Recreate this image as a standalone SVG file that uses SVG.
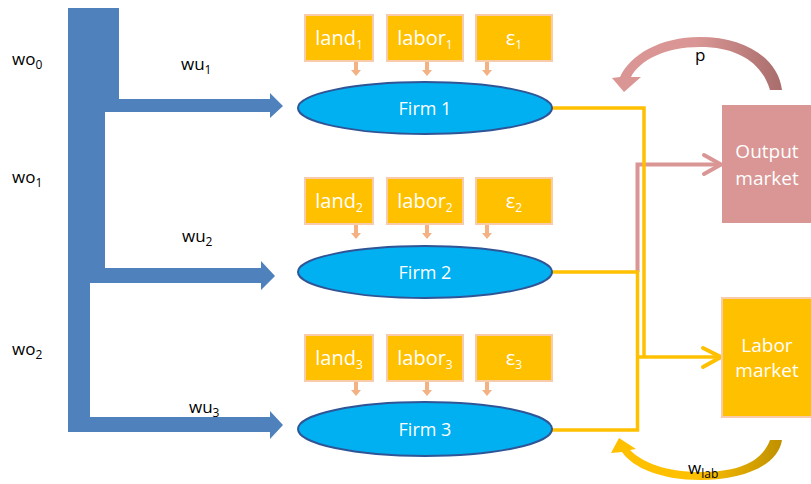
<svg xmlns="http://www.w3.org/2000/svg" width="811" height="484" viewBox="0 0 811 484">
<style>
.in{fill:#FFC000;stroke:#F8CBAD;stroke-width:2}
.firm{fill:#00B0F0;stroke:#2F5597;stroke-width:2}
.wt{font-family:"Open Sans","Liberation Sans",sans-serif;fill:#fff;text-anchor:middle}
.bt{font-family:"Open Sans","Liberation Sans",sans-serif;fill:#000;font-size:17px}
.sub{font-size:12px}
.yl{fill:none;stroke:#FFC000;stroke-width:3.5}
.pk{fill:none;stroke:#D99694;stroke-width:4}
.chev{fill:none;stroke-width:4;stroke-linecap:round;stroke-linejoin:round}
.sa{fill:#F4B183}
</style>
<defs>
<path id="sarrow" d="M -2,0 H 2 V 8 H 5 L 0,14 L -5,8 H -2 Z"/>
<linearGradient id="gp" x1="610" y1="0" x2="782" y2="0" gradientUnits="userSpaceOnUse">
<stop offset="0.5" stop-color="#D99694"/><stop offset="1" stop-color="#A86D6C"/>
</linearGradient>
<linearGradient id="gw" x1="610" y1="0" x2="782" y2="0" gradientUnits="userSpaceOnUse">
<stop offset="0.5" stop-color="#FFC000"/><stop offset="1" stop-color="#BF9000"/>
</linearGradient>
</defs>

<g id="connectors">
<path id="wageflow" fill="#4F81BD" d="M 68,8 H 119 V 99 H 270 V 93 L 283,106 L 270,118 V 112 H 105 V 268 H 261 V 261 L 275,276 L 261,290 V 283 H 90 V 417 H 270 V 411 L 283,425 L 270,439 V 432 H 68 Z"/>
<g class="sa">
<use href="#sarrow" x="356" y="62"/><use href="#sarrow" x="427" y="62"/><use href="#sarrow" x="487" y="62"/>
<use href="#sarrow" x="356" y="225"/><use href="#sarrow" x="427" y="225"/><use href="#sarrow" x="487" y="225"/>
<use href="#sarrow" x="356" y="382"/><use href="#sarrow" x="427" y="382"/><use href="#sarrow" x="487" y="382"/>
</g>
<path class="pk" d="M 637.5,272 V 164.5 H 720"/>
<path class="chev" stroke="#D99694" d="M 704,155 L 721,164.5 L 704,174"/>
<path class="yl" d="M 552,108 H 644 V 357"/>
<path class="yl" d="M 552,272 H 637.5 V 430 H 552"/>
<path class="yl" d="M 637.5,357 H 720"/>
<path class="chev" stroke="#FFC000" d="M 703,348 L 721,357 L 703,367"/>
<path fill="url(#gp)" d="M 782,90 C 778,58 745,37 700,37 C 660,37 630,55 620,77 L 612,78 L 624,92 L 641,77 L 631,77 C 640,60 665,47 700,47 C 738,47 762,63 770,90 Z"/>
<path fill="url(#gw)" d="M 782,440 C 778,465 745,480 700,480 C 662,480 633,468 622,452 L 611,453 L 619,438 L 636,449 L 630,450 C 642,462 665,472 700,472 C 738,472 762,462 770,440 Z"/>
</g>

<g id="labels">
<text class="bt" x="12" y="65">wo<tspan class="sub" dy="4">0</tspan></text>
<text class="bt" x="181" y="70">wu<tspan class="sub" dy="4">1</tspan></text>
<text class="bt" x="12" y="183">wo<tspan class="sub" dy="4">1</tspan></text>
<text class="bt" x="182" y="242">wu<tspan class="sub" dy="4">2</tspan></text>
<text class="bt" x="12" y="355">wo<tspan class="sub" dy="4">2</tspan></text>
<text class="bt" x="189" y="413">wu<tspan class="sub" dy="4">3</tspan></text>
<text class="bt" x="695" y="61">p</text>
<text class="bt" x="688" y="474" font-size="18">w<tspan class="sub" dy="4">lab</tspan></text>
</g>

<g id="land1"><rect class="in" x="305" y="15" width="68" height="46"/><text class="wt" x="339" y="45" font-size="20">land<tspan class="sub" font-size="13" dy="4">1</tspan></text></g>
<g id="labor1"><rect class="in" x="387" y="15" width="76" height="46"/><text class="wt" x="425" y="45" font-size="20">labor<tspan class="sub" font-size="13" dy="4">1</tspan></text></g>
<g id="eps1"><rect class="in" x="476" y="15" width="76" height="46"/><text class="wt" x="514" y="45" font-size="20">ε<tspan class="sub" font-size="13" dy="4">1</tspan></text></g>
<g id="firm1"><ellipse class="firm" cx="425" cy="108" rx="127" ry="26"/><text class="wt" x="425" y="115" font-size="18">Firm 1</text></g>

<g id="land2"><rect class="in" x="305" y="178" width="68" height="46"/><text class="wt" x="339" y="208" font-size="20">land<tspan class="sub" font-size="13" dy="4">2</tspan></text></g>
<g id="labor2"><rect class="in" x="387" y="178" width="76" height="46"/><text class="wt" x="425" y="208" font-size="20">labor<tspan class="sub" font-size="13" dy="4">2</tspan></text></g>
<g id="eps2"><rect class="in" x="476" y="178" width="76" height="46"/><text class="wt" x="514" y="208" font-size="20">ε<tspan class="sub" font-size="13" dy="4">2</tspan></text></g>
<g id="firm2"><ellipse class="firm" cx="425" cy="272" rx="127" ry="26"/><text class="wt" x="425" y="279" font-size="18">Firm 2</text></g>

<g id="land3"><rect class="in" x="305" y="335" width="68" height="46"/><text class="wt" x="339" y="365" font-size="20">land<tspan class="sub" font-size="13" dy="4">3</tspan></text></g>
<g id="labor3"><rect class="in" x="387" y="335" width="76" height="46"/><text class="wt" x="425" y="365" font-size="20">labor<tspan class="sub" font-size="13" dy="4">3</tspan></text></g>
<g id="eps3"><rect class="in" x="476" y="335" width="76" height="46"/><text class="wt" x="514" y="365" font-size="20">ε<tspan class="sub" font-size="13" dy="4">3</tspan></text></g>
<g id="firm3"><ellipse class="firm" cx="425" cy="429" rx="127" ry="27"/><text class="wt" x="425" y="436" font-size="18">Firm 3</text></g>

<g id="output-market"><rect x="722" y="105" width="92" height="118" fill="#D99694"/><text class="wt" x="767" y="158" font-size="19">Output</text><text class="wt" x="767" y="185" font-size="19">market</text></g>
<g id="labor-market"><rect class="in" x="722" y="298" width="92" height="119"/><text class="wt" x="767" y="352" font-size="19">Labor</text><text class="wt" x="767" y="377" font-size="19">market</text></g>
</svg>
